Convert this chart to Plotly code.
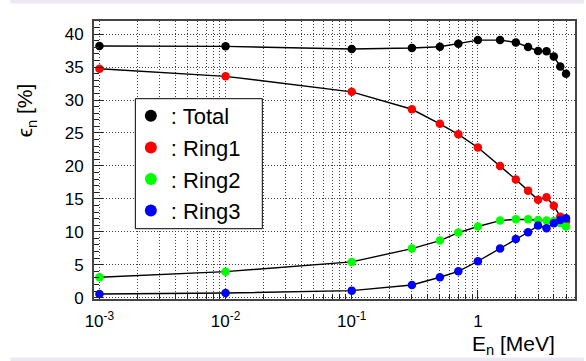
import plotly.graph_objects as go

energy = [0.001, 0.01, 0.1, 0.3, 0.5, 0.7, 1.0, 1.5, 2.0, 2.5, 3.0, 3.5, 4.0, 4.5, 5.0]
total = [38.2, 38.15, 37.75, 37.9, 38.1, 38.55, 39.1, 39.1, 38.75, 38.05, 37.45, 37.4, 36.6, 35.1, 34.0]
ring1 = [34.75, 33.6, 31.25, 28.6, 26.4, 24.8, 22.8, 20.0, 17.95, 16.25, 14.85, 15.25, 13.95, 12.3, 11.6]
ring2 = [3.1, 3.95, 5.43, 7.45, 8.67, 9.88, 10.8, 11.7, 11.9, 11.9, 11.8, 11.7, 11.65, 11.35, 10.8]
ring3 = [0.56, 0.71, 1.07, 1.93, 3.1, 4.0, 5.53, 7.45, 8.9, 9.93, 10.94, 10.55, 11.3, 11.8, 12.05]

names = [": Total", ": Ring1", ": Ring2", ": Ring3"]
colors = ["#000000", "#ff0000", "#00ff00", "#0000ff"]
series = [total, ring1, ring2, ring3]

xtickvals = [0.001, 0.01, 0.1, 1]
xticktext = ["10<sup>-3</sup>", "10<sup>-2</sup>", "10<sup>-1</sup>", "1"]

FONT = "Liberation Sans, Arial, Helvetica, sans-serif"

fig = go.Figure()
for name, col, ys in zip(names, colors, series):
    fig.add_trace(go.Scatter(x=energy, y=ys, mode="lines",
                             line=dict(color="black", width=1.4),
                             showlegend=False, hoverinfo="skip"))
    fig.add_trace(go.Scatter(x=energy, y=ys, mode="markers", name=name,
                             marker=dict(color=col, size=8.5, line=dict(width=0))))

W, H = 586, 361
L, R, T, B = 94, 9, 21, 62
ph = H - T - B
pw = W - L - R

def py(p):
    return (H - B - p) / ph

def px(p):
    return (p - L) / pw

band = "#ebe8f1"
shapes = [
    dict(type="rect", xref="paper", yref="paper", x0=px(10), x1=px(586), y0=py(3.5), y1=py(0),
         fillcolor=band, line=dict(width=0), layer="below"),
    dict(type="rect", xref="paper", yref="paper", x0=px(10), x1=px(586), y0=py(361), y1=py(357.5),
         fillcolor=band, line=dict(width=0), layer="below"),
    # legend frame
    dict(type="rect", xref="paper", yref="paper", x0=px(135.5), x1=px(263), y0=py(228.7), y1=py(98.7),
         fillcolor="white", line=dict(width=1, color="black"), layer="above"),
]

grid_dash = "1px,2px"
grid_col = "#444"

fig.update_layout(
    width=W, height=H,
    margin=dict(l=L, r=R, t=T, b=B, pad=0),
    paper_bgcolor="white", plot_bgcolor="white",
    font=dict(family=FONT, color="black", size=16),
    showlegend=True,
    legend=dict(x=px(131), y=py(95), xanchor="left", yanchor="top",
                bgcolor="rgba(0,0,0,0)", borderwidth=0,
                font=dict(size=22, family=FONT, color="black"),
                itemsizing="constant", tracegroupgap=0),
    shapes=shapes,
    xaxis=dict(type="log", range=[-3.043, 0.77],
               tickvals=xtickvals, ticktext=xticktext,
               ticks="inside", ticklen=9, tickcolor="#222", tickwidth=1,
               showgrid=True, gridcolor=grid_col, griddash=grid_dash, gridwidth=1,
               minor=dict(tickvals=[m * 10 ** e for e in (-3, -2, -1, 0) for m in range(2, 10) if m * 10 ** e < 5.9],
                          ticks="inside", ticklen=5, tickcolor="#222",
                          showgrid=True, gridcolor=grid_col, griddash=grid_dash, gridwidth=1),
               showline=True, linecolor="#444", linewidth=2, mirror=True,
               ticklabelstandoff=6, tickfont=dict(size=17, family=FONT),
               zeroline=False),
    yaxis=dict(range=[-0.2, 42], dtick=5, tick0=0,
               ticks="inside", ticklen=9, tickcolor="#222",
               showgrid=True, gridcolor=grid_col, griddash=grid_dash, gridwidth=1,
               minor=dict(dtick=1, ticks="inside", ticklen=5, tickcolor="#222", showgrid=False),
               showline=True, linecolor="#444", linewidth=2, mirror=True,
               ticklabelstandoff=5, tickfont=dict(size=17, family=FONT),
               zeroline=False),
    annotations=[
        dict(text="E<sub>n</sub> [MeV]", xref="paper", yref="paper",
             x=px(559), y=py(345), xanchor="right", yanchor="middle",
             showarrow=False, font=dict(size=21, family=FONT, color="black")),
        dict(text="ϵ<sub>n</sub> [%]", xref="paper", yref="paper",
             x=px(26), y=py(110), xanchor="center", yanchor="middle", textangle=-90,
             showarrow=False, font=dict(size=21, family=FONT, color="black")),
    ],
)

fig.write_html("out.html")
